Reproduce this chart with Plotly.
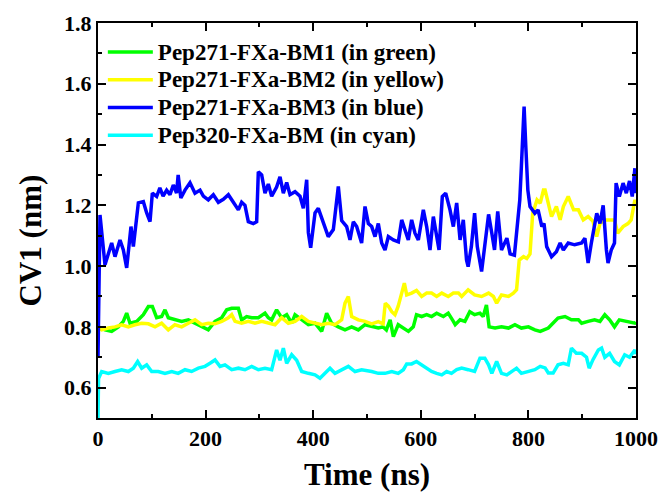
import plotly.graph_objects as go

# ---- data ----
green_t = [0, 13, 25.4, 37.8, 47.1, 53.3, 59.5, 71.9, 84.3, 93.6, 101, 109, 118.3, 124.5, 130.7, 143, 155.5, 167.9,
           180.3, 192.7, 205, 217.5, 229.9, 239.2, 248.5, 260.9, 267, 276.3, 285.6, 298, 310.4, 316.6, 322.8, 332,
           341.4, 350.7, 360, 366.2, 378.6, 391, 403.4, 415.8, 425, 434.3, 446.7, 459.1, 471.5, 483.9, 496.3, 508.7,
           521, 530, 536, 543, 549, 558, 567.6, 577, 586, 592, 601.6, 611, 620, 629.5, 642, 651, 660.5, 664, 673,
           682, 691, 700, 710, 716, 722, 727, 738, 750, 763, 775, 787, 800, 812, 822, 837, 843, 855, 868, 880, 893,
           899, 911, 923, 933, 942, 951, 960, 969, 982, 998, 1000]
green_v = [0.80, 0.79, 0.785, 0.80, 0.818, 0.845, 0.812, 0.818, 0.84, 0.867, 0.867, 0.83, 0.834, 0.856, 0.83, 0.823,
           0.818, 0.823, 0.812, 0.80, 0.79, 0.818, 0.83, 0.856, 0.861, 0.861, 0.823, 0.834, 0.83, 0.83, 0.845, 0.83,
           0.823, 0.856, 0.83, 0.84, 0.812, 0.84, 0.823, 0.807, 0.812, 0.785, 0.845, 0.812, 0.80, 0.79, 0.80, 0.79,
           0.807, 0.80, 0.796, 0.80, 0.79, 0.823, 0.768, 0.807, 0.796, 0.785, 0.80, 0.84, 0.834, 0.84, 0.834, 0.845,
           0.834, 0.845, 0.818, 0.807, 0.823, 0.818, 0.85, 0.84, 0.845, 0.834, 0.872, 0.80, 0.796, 0.80, 0.796,
           0.807, 0.796, 0.80, 0.79, 0.785, 0.796, 0.807, 0.829, 0.834, 0.823, 0.823, 0.812, 0.818, 0.823, 0.818,
           0.84, 0.823, 0.80, 0.823, 0.818, 0.812, 0.815]

yellow_t = [0, 6.8, 19.2, 31.6, 44, 56.4, 68.8, 81.2, 93.6, 106, 118.3, 130.7, 143, 155.5, 167.9, 180.3, 192.7, 205,
            217.5, 229.9, 242.3, 248.5, 254.7, 267, 279.4, 291.8, 304.2, 316.6, 329, 341.4, 353.8, 366.2, 378.6, 391,
            403.4, 415.8, 428, 440.5, 452.9, 459.1, 465.3, 471.5, 483.9, 496.3, 508.7, 521, 530, 534, 539.7, 546, 552,
            558, 564.5, 569.4, 573.8, 583, 592, 601.6, 611, 620, 629.5, 639, 651, 660.5, 670, 676, 688, 700, 713, 726,
            735, 741, 750, 763, 772, 778, 783, 791, 797, 803, 808, 816, 822, 828, 831, 837, 843, 852, 859, 865, 874,
            884, 893, 902, 911, 920, 927, 933, 942, 954, 960, 966, 976, 985, 991, 998, 1000]
yellow_v = [0.80, 0.79, 0.796, 0.80, 0.807, 0.80, 0.807, 0.812, 0.81, 0.80, 0.812, 0.79, 0.807, 0.80, 0.812, 0.823,
            0.807, 0.812, 0.81, 0.818, 0.83, 0.84, 0.818, 0.812, 0.818, 0.812, 0.818, 0.812, 0.807, 0.83, 0.812, 0.818,
            0.834, 0.818, 0.812, 0.807, 0.812, 0.807, 0.823, 0.878, 0.90, 0.834, 0.823, 0.818, 0.81, 0.817, 0.81, 0.878,
            0.868, 0.85, 0.84, 0.868, 0.911, 0.944, 0.905, 0.911, 0.92, 0.90, 0.911, 0.911, 0.90, 0.911, 0.90, 0.911,
            0.911, 0.90, 0.922, 0.905, 0.90, 0.911, 0.90, 0.878, 0.905, 0.90, 0.911, 0.922, 1.02, 1.031, 1.025, 1.04,
            1.174, 1.218, 1.207, 1.25, 1.25, 1.207, 1.163, 1.196, 1.152, 1.196, 1.229, 1.185, 1.185, 1.152, 1.163,
            1.148, 1.097, 1.14, 1.152, 1.152, 1.152, 1.108, 1.13, 1.14, 1.152, 1.218, 1.20]

blue_t = [0, 3.7, 13, 25.4, 31.6, 40.9, 47.1, 53.3, 61.3, 65.7, 75, 84.3, 90.5, 96.7, 101, 109, 115, 121, 127.6,
          133.8, 140, 146, 149, 154, 161.7, 171, 180.3, 189.6, 195.8, 205, 214.4, 223.7, 233, 242.3, 251.6, 260.9,
          267, 273.2, 279.4, 288.7, 294.9, 298, 304.2, 310.4, 316.6, 322.8, 332, 338.3, 344.5, 350.7, 356.9, 366.2,
          375.5, 381.7, 387.9, 391, 395.3, 403.4, 409.5, 418.9, 428, 437.4, 446.7, 452.9, 462.2, 468.4, 474.6, 480.8,
          490, 496.3, 502.5, 508.7, 514.9, 521, 527.3, 533.5, 539.7, 549, 558.3, 564.5, 570.7, 576.8, 583, 589.2,
          595.4, 604.7, 610.9, 617.1, 623.3, 629.5, 633.9, 640, 646.3, 654.3, 660.5, 666.7, 673, 679, 685, 688, 694,
          700, 705, 713, 719, 726, 732, 737, 743, 750, 760, 766, 774, 780, 784, 787, 790, 792, 795, 799, 803, 812,
          818, 825, 829, 834, 837, 843, 852, 859, 865, 874, 886, 899, 905, 911, 917, 927, 933, 939, 945, 948, 954,
          960, 963, 969, 976, 982, 988, 993, 998, 1000]
blue_v = [0.70, 1.168, 1.004, 1.076, 1.031, 1.086, 1.053, 0.994, 1.13, 1.064, 1.208, 1.212, 1.175, 1.146, 1.24,
          1.229, 1.257, 1.23, 1.25, 1.235, 1.267, 1.24, 1.30, 1.224, 1.25, 1.274, 1.24, 1.25, 1.23, 1.218, 1.235,
          1.21, 1.22, 1.235, 1.21, 1.185, 1.21, 1.20, 1.146, 1.14, 1.146, 1.31, 1.30, 1.24, 1.27, 1.23, 1.26, 1.294,
          1.24, 1.275, 1.235, 1.245, 1.23, 1.19, 1.284, 1.11, 1.06, 1.175, 1.19, 1.146, 1.097, 1.12, 1.262, 1.15,
          1.13, 1.086, 1.146, 1.13, 1.076, 1.196, 1.14, 1.13, 1.097, 1.14, 1.076, 1.053, 1.097, 1.086, 1.08, 1.152,
          1.116, 1.086, 1.152, 1.108, 1.086, 1.185, 1.13, 1.053, 1.163, 1.097, 1.053, 1.229, 1.24, 1.185, 1.13,
          1.208, 1.086, 1.152, 1.02, 0.998, 1.064, 1.174, 1.064, 0.982, 1.064, 1.17, 1.108, 1.053, 1.18, 1.053,
          1.092, 1.04, 1.036, 1.13, 1.218, 1.33, 1.45, 1.525, 1.40, 1.25, 1.196, 1.174, 1.185, 1.13, 1.14, 1.064,
          1.053, 1.031, 1.047, 1.076, 1.053, 1.076, 1.07, 1.076, 1.092, 1.01, 1.076, 1.174, 1.14, 1.20, 1.053, 1.01,
          1.053, 1.076, 1.273, 1.229, 1.273, 1.24, 1.28, 1.229, 1.322, 1.24]

cyan_t = [0, 1, 6.8, 19.2, 31.6, 44, 56.4, 65.7, 73.7, 81.2, 90.5, 99.8, 112, 124.5, 137, 149, 161.7, 174, 186.5,
          198.9, 208.2, 217.5, 226.8, 236, 248.5, 260.9, 273.2, 285.6, 298, 310.4, 322.8, 332, 338.3, 344.5, 350.7,
          360, 369.3, 378.6, 391, 403.4, 412.6, 422, 431.2, 440.5, 452.9, 465.3, 477.7, 490, 508.7, 521, 533.5, 546,
          558, 567.6, 573.8, 583, 592, 601.6, 611, 620, 629.5, 639, 648, 657, 666.7, 676, 688, 700, 710, 719, 726,
          732, 741, 750, 760, 769, 778, 787, 800, 812, 822, 831, 837, 846, 855, 865, 874, 880, 889, 899, 908, 913,
          920, 930, 936, 942, 951, 960, 969, 979, 988, 998, 1000]
cyan_v = [0.50, 0.63, 0.653, 0.647, 0.653, 0.659, 0.653, 0.664, 0.686, 0.664, 0.675, 0.653, 0.653, 0.647, 0.653,
          0.647, 0.659, 0.653, 0.664, 0.67, 0.68, 0.691, 0.67, 0.675, 0.659, 0.664, 0.659, 0.67, 0.659, 0.664, 0.659,
          0.724, 0.69, 0.73, 0.68, 0.708, 0.69, 0.653, 0.647, 0.642, 0.631, 0.647, 0.664, 0.647, 0.659, 0.67, 0.653,
          0.659, 0.653, 0.647, 0.647, 0.653, 0.647, 0.659, 0.678, 0.678, 0.686, 0.675, 0.664, 0.653, 0.647, 0.642,
          0.653, 0.647, 0.659, 0.664, 0.659, 0.653, 0.697, 0.697, 0.675, 0.647, 0.686, 0.647, 0.642, 0.653, 0.664,
          0.647, 0.653, 0.659, 0.67, 0.665, 0.648, 0.648, 0.675, 0.68, 0.675, 0.73, 0.713, 0.713, 0.70, 0.664, 0.692,
          0.724, 0.73, 0.70, 0.713, 0.686, 0.675, 0.708, 0.70, 0.724, 0.71]

series_names = ["Pep271-FXa-BM1 (in green)", "Pep271-FXa-BM2 (in yellow)",
                "Pep271-FXa-BM3 (in blue)", "Pep320-FXa-BM (in cyan)"]
series_colors = ["#00ff00", "#ffff00", "#0000ff", "#00ffff"]
series_t = [green_t, yellow_t, blue_t, cyan_t]
series_v = [green_v, yellow_v, blue_v, cyan_v]

x_ticks = [0, 200, 400, 600, 800, 1000]
y_ticks = [0.6, 0.8, 1.0, 1.2, 1.4, 1.6, 1.8]

FONT = "Liberation Serif, Times New Roman, serif"

fig = go.Figure()
for name, t, v, c in zip(series_names, series_t, series_v, series_colors):
    fig.add_trace(go.Scatter(x=t, y=v, mode="lines",
                             name=f"<span style='font-size:23px'>{name}</span>",
                             line=dict(color=c, width=3.5)))

axis_common = dict(
    showline=True, linecolor="black", linewidth=2, mirror="ticks",
    ticks="inside", ticklen=8, tickwidth=2, tickcolor="black",
    showgrid=False, zeroline=False, automargin=False,
    tickfont=dict(family=FONT, size=22, color="black", weight="bold"),
)

fig.update_xaxes(range=[0, 1000], tickvals=x_ticks, ticktext=[str(v) for v in x_ticks],
                 minor=dict(ticks="inside", ticklen=4, tickwidth=2, dtick=100, tickcolor="black"),
                 **axis_common)
fig.update_yaxes(range=[0.5, 1.8], tickvals=y_ticks, ticktext=[f"{v:.1f}" for v in y_ticks],
                 minor=dict(ticks="inside", ticklen=4, tickwidth=2, dtick=0.1, tick0=0.5, tickcolor="black"),
                 **axis_common)

fig.add_annotation(text="CV1 (nm)", xref="paper", yref="paper", x=-0.126, y=0.45,
                   textangle=-90, showarrow=False, xanchor="center", yanchor="middle",
                   font=dict(family=FONT, size=31, color="black", weight="bold"))
fig.add_annotation(text="Time (ns)", xref="paper", yref="paper", x=0.5, y=-0.144,
                   showarrow=False, xanchor="center", yanchor="middle",
                   font=dict(family=FONT, size=31, color="black", weight="bold"))

fig.update_layout(
    width=661, height=493,
    margin=dict(l=98, r=25, t=23, b=75, autoexpand=False),
    paper_bgcolor="white", plot_bgcolor="white",
    showlegend=True,
    legend=dict(x=0.009, y=0.974, xanchor="left", yanchor="top", itemwidth=45,
                bgcolor="rgba(0,0,0,0)", borderwidth=0, tracegroupgap=0,
                font=dict(family=FONT, size=19, color="black", weight="bold")),
)

fig.write_html("out.html", config={"displayModeBar": False},
               post_script="document.body.style.margin='0px';")
